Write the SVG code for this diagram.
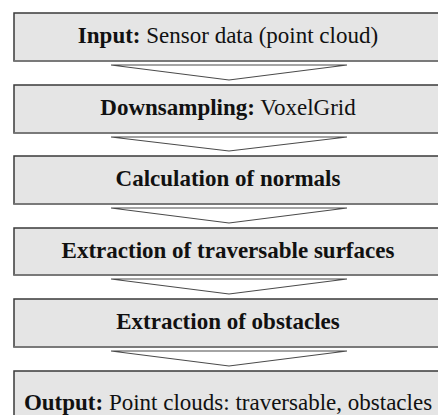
<svg xmlns="http://www.w3.org/2000/svg" width="438" height="415" viewBox="0 0 438 415">
<style>
.box{fill:#e5e5e5;stroke:#3a3a3a;stroke-width:1.5}
.bot{stroke:#808080;stroke-width:1.5}
.arr{fill:#ffffff;stroke:#4a4a4a;stroke-width:1.2;stroke-linejoin:miter}
text{font-family:"Liberation Serif","Times New Roman",serif;font-size:23px;fill:#111;text-anchor:middle}
.b{font-weight:bold}
</style>
<rect width="438" height="415" fill="#ffffff"/>
<g id="connectors">
<polygon class="arr" points="111,65 347,65 229,80"/>
<polygon class="arr" points="111,137 347,137 229,151"/>
<polygon class="arr" points="111,208 347,208 229,223"/>
<polygon class="arr" points="111,279 347,279 229,294"/>
<polygon class="arr" points="111,351 347,351 229,366"/>
</g>
<g id="n1"><rect class="box" x="14" y="13" width="430" height="48"/><line class="bot" x1="14" y1="61" x2="438" y2="61"/><text x="228" y="43"><tspan class="b">Input:</tspan> Sensor data (point cloud)</text></g>
<g id="n2"><rect class="box" x="14" y="85" width="430" height="48"/><line class="bot" x1="14" y1="133" x2="438" y2="133"/><text x="228" y="115"><tspan class="b">Downsampling:</tspan> VoxelGrid</text></g>
<g id="n3"><rect class="box" x="14" y="156" width="430" height="48"/><line class="bot" x1="14" y1="204" x2="438" y2="204"/><text x="228" y="186" class="b">Calculation of normals</text></g>
<g id="n4"><rect class="box" x="14" y="228" width="430" height="47"/><line class="bot" x1="14" y1="275" x2="438" y2="275"/><text x="228" y="258" class="b">Extraction of traversable surfaces</text></g>
<g id="n5"><rect class="box" x="14" y="299" width="430" height="48"/><line class="bot" x1="14" y1="347" x2="438" y2="347"/><text x="228" y="329" class="b">Extraction of obstacles</text></g>
<g id="n6"><rect class="box" x="14" y="371" width="430" height="60"/><text x="228" y="410"><tspan class="b">Output:</tspan> Point clouds: traversable, obstacles</text></g>
</svg>
